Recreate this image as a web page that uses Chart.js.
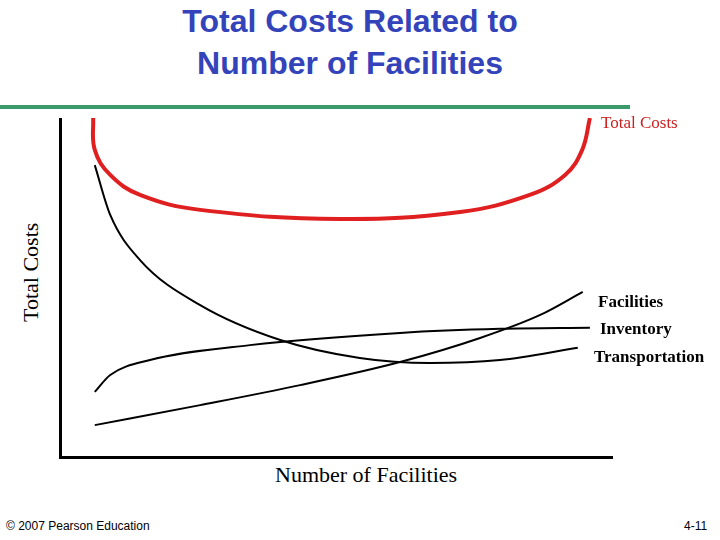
<!DOCTYPE html>
<html>
<head>
<title>Total Costs</title>
<style>
body{margin:0;width:720px;height:540px;background:#fff;position:relative;overflow:hidden;font-family:'Liberation Serif',serif;}
.t{position:absolute;white-space:nowrap;}
#title{left:0;width:700px;top:22px;text-align:center;font-family:'Liberation Sans',Arial,sans-serif;font-weight:bold;font-size:32px;line-height:42px;color:#3344bb;}
#rule{position:absolute;left:0;top:105px;width:630px;height:4px;background:#3a9a6a;}
#box{position:absolute;left:60px;top:118px;width:552px;height:339px;}
#yax{position:absolute;left:59px;top:118px;width:3px;height:341px;background:#000;}
#xax{position:absolute;left:59px;top:456px;width:554px;height:3px;background:#000;}
</style>
</head>
<body>
<script src="https://cdn.jsdelivr.net/npm/chart.js"></script>
<div id="title">Total Costs Related to<br>Number of Facilities</div>
<div id="rule"></div>
<div id="box"><canvas id="c"></canvas></div>
<div id="yax"></div><div id="xax"></div>
<div class="t" style="left:601px;top:113px;font-size:17px;color:#cc2222;">Total Costs</div>
<div class="t" style="left:598px;top:292px;font-size:17px;font-weight:bold;">Facilities</div>
<div class="t" style="left:600px;top:319px;font-size:17px;font-weight:bold;">Inventory</div>
<div class="t" style="left:594px;top:347px;font-size:17px;font-weight:bold;">Transportation</div>
<div class="t" style="left:275px;top:462px;font-size:22px;">Number of Facilities</div>
<div class="t" style="left:18px;top:322px;font-size:22px;transform:rotate(-90deg);transform-origin:0 0;">Total Costs</div>
<div class="t" style="left:6px;top:519px;font-size:12px;font-family:'Liberation Sans',Arial,sans-serif;">© 2007 Pearson Education</div>
<div class="t" style="left:684px;top:519px;font-size:12px;font-family:'Liberation Sans',Arial,sans-serif;">4-11</div>
<script>
// conceptual curves (x and y on a 0-100 scale)
const totalX = [6, 6.3, 9.1, 14.5, 25.4, 50.7, 72.5, 85.1, 91.5, 94.6, 96];
const totalY = [100, 90.6, 83.2, 77.3, 72.9, 70.2, 72.3, 77.3, 83.2, 90.6, 100];
const fallX = [6.3, 9.1, 14.5, 25.4, 39.9, 54.3, 67, 79.7, 93.8];
const fallY = [86.1, 71.4, 58.1, 44.8, 34.5, 29.2, 27.7, 28.6, 32.2];
const riseX = [6.3, 25.4, 43.5, 61.6, 76.1, 87, 94.7];
const riseY = [9.4, 15.3, 21.2, 28, 35.1, 41.9, 48.7];
const flatX = [6.3, 9.1, 16.3, 34.4, 61.6, 79.7, 96];
const flatY = [19.2, 24.2, 28.6, 33, 36.6, 37.8, 38.1];

function pts(xs, ys){ return xs.map((x,i)=>({x:x,y:ys[i]})); }
function ds(xs, ys, color, w, mode){
  return {data:pts(xs,ys), borderColor:color, borderWidth:w, pointRadius:0, tension:0.4, cubicInterpolationMode:mode, fill:false};
}
new Chart(document.getElementById('c'), {
  type:'line',
  data:{datasets:[
    ds(totalX,totalY,'#e02020',4,'default'),
    ds(fallX,fallY,'#000',2,'monotone'),
    ds(riseX,riseY,'#000',2,'monotone'),
    ds(flatX,flatY,'#000',2,'monotone')
  ]},
  options:{
    responsive:true, maintainAspectRatio:false, animation:false, clip:false,
    layout:{padding:0},
    plugins:{legend:{display:false}, tooltip:{enabled:false}},
    scales:{
      x:{type:'linear', min:0, max:100, display:false},
      y:{min:0, max:100, display:false}
    }
  }
});
</script>
</body>
</html>
